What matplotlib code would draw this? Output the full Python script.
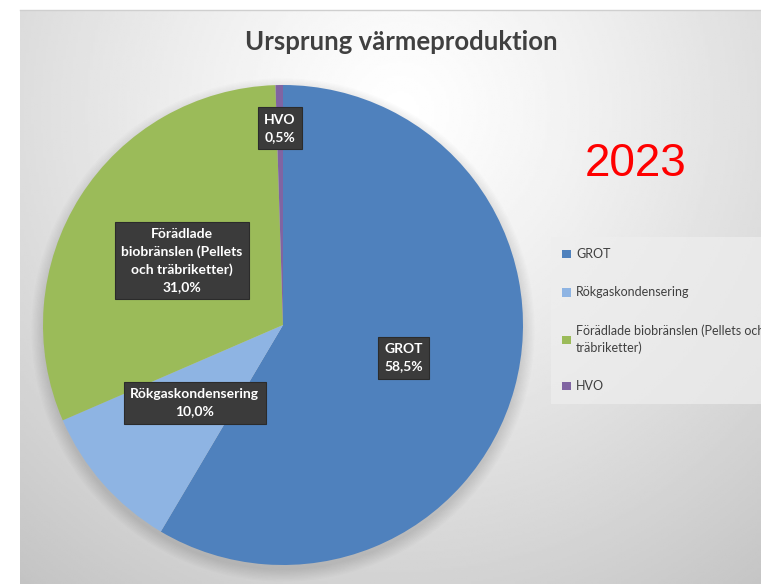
import numpy as np
import matplotlib
matplotlib.use("Agg")
import matplotlib.pyplot as plt
from matplotlib.patches import Patch, Circle

categories = ["GROT", "Rökgaskondensering",
              "Förädlade biobränslen (Pellets och träbriketter)", "HVO"]
shares = [58.5, 10.0, 31.0, 0.5]
box_labels = ["GROT", "Rökgaskondensering",
              "Förädlade\nbiobränslen (Pellets\noch träbriketter)", "HVO"]
legend_labels = ["GROT", "Rökgaskondensering",
                 "Förädlade biobränslen (Pellets och\nträbriketter)", "HVO"]
colors = ["#4f81bd", "#8eb4e3", "#9bbb59", "#8064a2"]
label_dist = [0.52, 0.49, 0.50, 0.82]

W, H = 761, 584
plt.rcParams["font.family"] = ["Lato", "DejaVu Sans"]

fig = plt.figure(figsize=(W / 100, H / 100), dpi=100, facecolor="white")
ax = fig.add_axes([0, 0, 1, 1])

# chart area background, radial grey gradient
x0, y_top = 20, H - 10
xx, yy = np.meshgrid(np.linspace(x0, W, 300), np.linspace(0, y_top, 300))
d = np.hypot(xx - 400, yy - (H - 110))
v = 1 - 0.23 * (d / 600) ** 1.2
ax.imshow(v, extent=(x0, W, 0, y_top), origin="lower", cmap="gray",
          vmin=0, vmax=1, aspect="auto", zorder=0)
ax.plot([x0, W], [y_top, y_top], color="#cfcfcf", lw=1, zorder=1)

cx, cy, r = 283, H - 325, 240

# soft shadow below the pie
for i in range(10):
    ax.add_patch(Circle((cx, cy - 5), r + i * 1.3, color="black",
                        alpha=0.012, lw=0, zorder=1))

wedges, _ = ax.pie(shares, colors=colors, startangle=90, counterclock=False,
                   center=(cx, cy), radius=r, frame=True,
                   wedgeprops=dict(linewidth=0, zorder=2))
ax.set_xlim(0, W)
ax.set_ylim(0, H)
ax.set_aspect("equal")
ax.axis("off")

for w, lab, val, f in zip(wedges, box_labels, shares, label_dist):
    th = np.deg2rad((w.theta1 + w.theta2) / 2)
    tx = cx + f * r * np.cos(th)
    ty = cy + f * r * np.sin(th)
    txt = f"{lab}\n{val:.1f}%".replace(".", ",")
    ax.text(tx, ty, txt, ha="center", va="center", color="white",
            fontsize=10, fontweight="bold", linespacing=1.5, zorder=5,
            bbox=dict(boxstyle="square,pad=0.45", fc="#3b3b3b", ec="#2b2b2b",
                      lw=0.8))

ax.text(401, H - 42, "Ursprung värmeproduktion", ha="center", va="center",
        fontsize=18.5, fontweight="bold", color="#404040", zorder=5)
ax.text(636, H - 176, "2023", ha="center", va="baseline", color="red",
        fontsize=33, family="Liberation Sans", zorder=5)

handles = [Patch(facecolor=c, edgecolor="none") for c in colors]
leg = fig.legend(handles, legend_labels, loc="upper left",
                 bbox_to_anchor=(551 / W, 1 - 237 / H), frameon=True,
                 fancybox=False, fontsize=9, labelspacing=2.1,
                 handlelength=0.7, handleheight=0.7, handletextpad=0.4,
                 borderpad=0.9, borderaxespad=0)
leg.get_frame().set_facecolor("#eeeeee")
leg.get_frame().set_edgecolor("none")
leg.get_frame().set_alpha(0.7)
for t in leg.get_texts():
    t.set_color("#404040")
    t.set_linespacing(1.4)

fig.savefig("out.png", dpi=100, facecolor="white")
